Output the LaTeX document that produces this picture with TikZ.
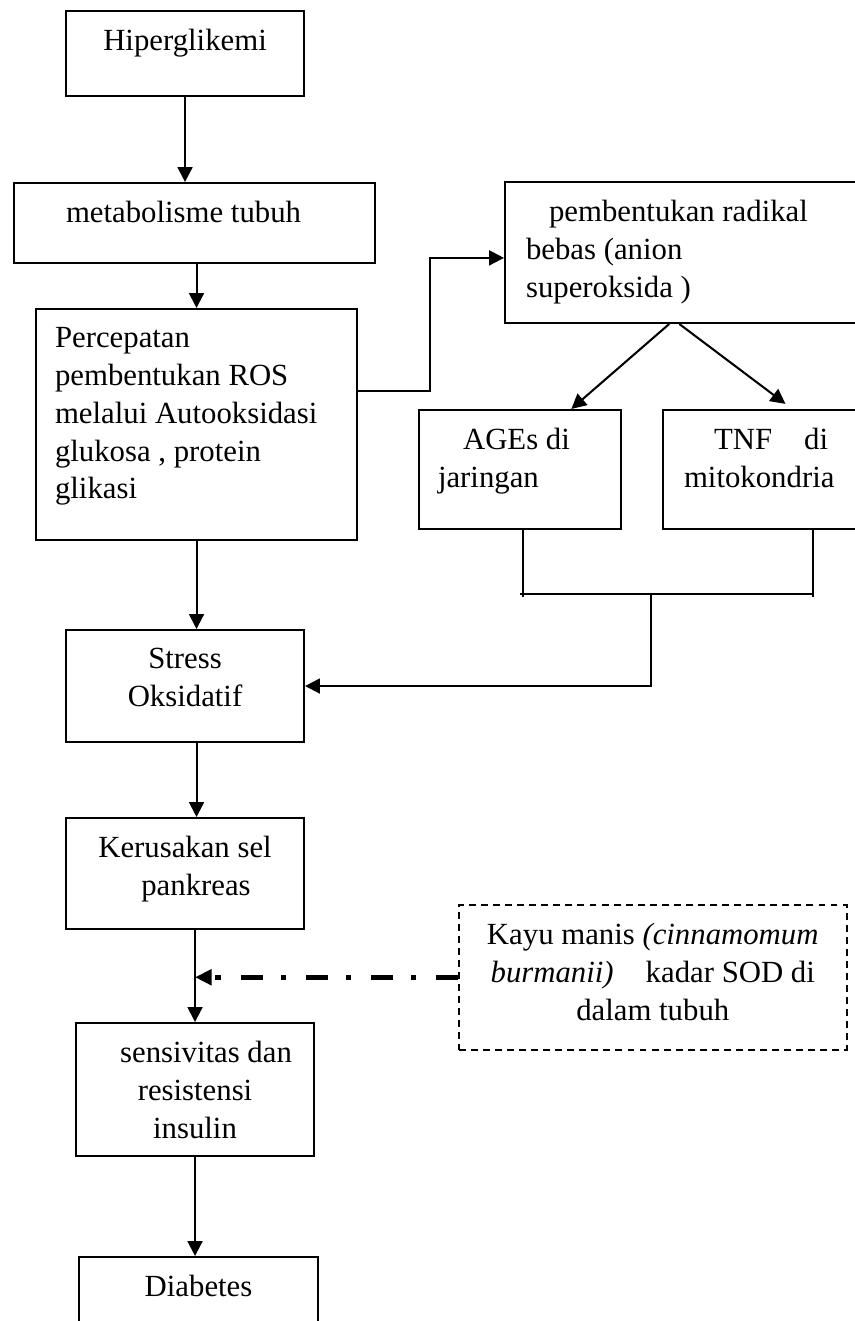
\documentclass[tikz,border=0pt]{standalone}
\usepackage{fontspec}
\setmainfont{Liberation Serif}
\usetikzlibrary{arrows.meta, positioning}

\newlength{\pxu}
\setlength{\pxu}{0.39pt}
%% box text: width, height (in px), top aligned
\newcommand{\cell}[3]{\parbox[c][#2\pxu][t]{#1\pxu}{\vspace*{18\pxu}#3}}
\newcommand{\lefttext}[1]{\raggedright\leftskip=#1\pxu\relax}

\tikzset{
  flowbox/.style={draw, line width=0.8pt, inner sep=0pt, anchor=north west,
                  font=\fontsize{12}{14.8}\selectfont},
  notebox/.style={flowbox, line width=0.6pt, dash pattern=on 2.7pt off 2pt},
  link/.style={line width=0.8pt},
  arr/.style={-{Triangle[length=5.8pt, width=5.8pt]}, line width=0.8pt},
  darr/.style={-{Triangle[length=6.5pt, width=6pt]}, line width=2pt,
               dash pattern=on 8.6pt off 7.8pt on 2pt off 7pt},
}

\begin{document}
\begin{tikzpicture}[x=0.39pt, y=-0.39pt]

  \useasboundingbox (0,0) rectangle (854,1321);

  %% ── Main chain ──
  \node[flowbox] (hyper) at (65,10) {\cell{238}{85}{\centering Hiperglikemi}};
  \node[flowbox] (metab) at (13,182)
    {\cell{361}{80}{\lefttext{52}metabolisme tubuh}};
  \node[flowbox] (ros) at (35,308)
    {\cell{321}{231}{\lefttext{19}Percepatan\\ pembentukan ROS\\
      melalui Autooksidasi\\ glukosa , protein\\ glikasi}};
  \node[flowbox] (stress) at (65,629)
    {\cell{238}{112}{\centering Stress\\ Oksidatif}};
  \node[flowbox] (sel) at (65,817)
    {\cell{238}{111}{\centering Kerusakan sel\\ \hspace*{22\pxu}pankreas}};
  \node[flowbox] (insulin) at (75,1022)
    {\cell{238}{133}{\centering \hspace*{22\pxu}sensivitas dan\\ resistensi\\ insulin}};
  \node[flowbox] (diabetes) at (78,1256)
    {\cell{239}{100}{\centering Diabetes}};

  %% ── Right branch ──
  \node[flowbox] (radikal) at (504,181)
    {\cell{400}{141}{\lefttext{21}\hspace*{23\pxu}pembentukan radikal\\
      bebas (anion\\ superoksida )}};
  \node[flowbox] (ages) at (418,409)
    {\cell{202}{119}{\lefttext{19}\hspace*{25\pxu}AGEs di\\ jaringan}};
  \node[flowbox] (tnf) at (662,409)
    {\cell{250}{119}{\lefttext{21}\hspace*{30\pxu}TNF\hspace*{32\pxu}di\\ mitokondria}};

  %% ── Intervention ──
  \node[notebox] (kayu) at (458,904)
    {\cell{388}{145}{\centering Kayu manis \textit{(cinnamomum}\\
      \textit{burmanii)}\hspace{32\pxu}kadar SOD di\\ dalam tubuh}};

  %% ── Connectors ──
  \draw[arr] (hyper.south) -- (hyper.south |- metab.north);
  \draw[arr] (ros.north |- metab.south) -- (ros.north);
  \draw[arr] (ros.south) -- (ros.south |- stress.north);
  \draw[arr] (stress.south -| ros.south) -- (sel.north -| ros.south);
  \draw[arr] (sel.south -| insulin.north) -- (insulin.north);
  \draw[arr] (insulin.south) -- (insulin.south |- diabetes.north);

  \coordinate (elbow) at (430,391);
  \draw[arr] (ros.east |- elbow) -- (elbow) |- ([yshift=-2.1pt]radikal.west);

  \draw[arr] ([xshift=-14pt]radikal.south) -- ([xshift=20pt]ages.north);
  \draw[arr] ([xshift=-10pt]radikal.south) -- ([xshift=-1pt, yshift=2pt]tnf.north);

  %% bracket joining AGEs and TNF
  \coordinate (jl) at (523,594);
  \coordinate (jr) at (813,594);
  \coordinate (jm) at (651,594);
  \draw[link] (ages.south -| jl) -- ([yshift=-1pt]jl);
  \draw[link] (tnf.south -| jr) -- ([yshift=-1pt]jr);
  \draw[link] ([xshift=-1pt]jl) -- (jr);
  \draw[arr] (jm) |- (stress.east);

  %% dash-dot effect of cinnamon
  \draw[darr] (kayu.west) -- (insulin.north |- kayu.west);

\end{tikzpicture}
\end{document}
